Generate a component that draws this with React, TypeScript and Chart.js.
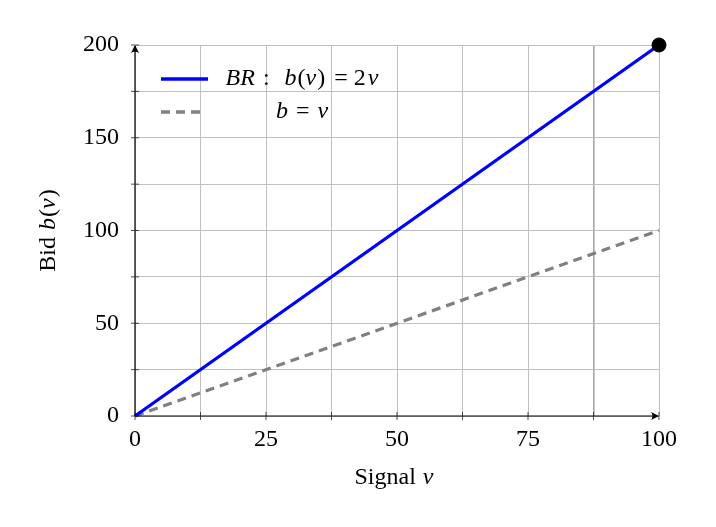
import React, { useEffect, useRef } from "react";
import { Chart, registerables } from "chart.js";

Chart.register(...registerables);

const signal = [0, 100];
const bestResponse = [0, 200];
const identity = [0, 100];
const endPoint = { x: 100, y: 200 };
const xTicks = [0, 25, 50, 75, 100];
const yTicks = [0, 50, 100, 150, 200];
const seriesLabels = ["BR : b(v) = 2v", "b = v"];

const SERIF = '"Liberation Serif", "DejaVu Serif", serif';
const FS = 24;

type Run = { t: string; i: boolean; g?: number };

function drawRuns(ctx: CanvasRenderingContext2D, runs: Run[], x: number, y: number, size: number, align: "left" | "center") {
  let total = 0;
  const widths = runs.map((r) => {
    ctx.font = `${r.i ? "italic " : ""}${size}px ${SERIF}`;
    const w = ctx.measureText(r.t).width;
    total += w + (r.g || 0);
    return w;
  });
  let cx = align === "center" ? x - total / 2 : x;
  ctx.textAlign = "left";
  ctx.textBaseline = "middle";
  runs.forEach((r, k) => {
    cx += r.g || 0;
    ctx.font = `${r.i ? "italic " : ""}${size}px ${SERIF}`;
    ctx.fillText(r.t, cx, y);
    cx += widths[k];
  });
}

const overlay = {
  id: "overlay",
  afterDatasetsDraw(chart: any) {
    const ctx: CanvasRenderingContext2D = chart.ctx;
    const xs = chart.scales.x;
    const ys = chart.scales.y;
    const x0 = xs.getPixelForValue(0);
    const x1 = xs.getPixelForValue(100);
    const y0 = ys.getPixelForValue(0);
    const y1 = ys.getPixelForValue(200);
    ctx.save();
    // axes
    ctx.strokeStyle = "#000";
    ctx.fillStyle = "#000";
    ctx.lineWidth = 1.2;
    ctx.beginPath();
    ctx.moveTo(x0, y0);
    ctx.lineTo(x1 - 1, y0);
    ctx.moveTo(x0, y0);
    ctx.lineTo(x0, y1 + 1);
    ctx.stroke();
    // arrow heads
    ctx.beginPath();
    ctx.moveTo(x1, y0);
    ctx.lineTo(x1 - 8, y0 - 4);
    ctx.quadraticCurveTo(x1 - 5, y0, x1 - 8, y0 + 4);
    ctx.closePath();
    ctx.fill();
    ctx.beginPath();
    ctx.moveTo(x0, y1);
    ctx.lineTo(x0 - 4, y1 + 8);
    ctx.quadraticCurveTo(x0, y1 + 5, x0 + 4, y1 + 8);
    ctx.closePath();
    ctx.fill();
    // tick marks
    ctx.lineWidth = 0.8;
    ctx.strokeStyle = "#222";
    ctx.beginPath();
    for (let v = 0; v <= 100; v += 12.5) {
      const p = xs.getPixelForValue(v);
      ctx.moveTo(p, y0 - 4);
      ctx.lineTo(p, y0 + 4);
    }
    for (let v = 0; v <= 200; v += 25) {
      const p = ys.getPixelForValue(v);
      ctx.moveTo(x0 - 4, p);
      ctx.lineTo(x0 + 4, p);
    }
    ctx.stroke();

    // legend
    const lx = 161;
    const rows = [79, 112];
    ctx.lineWidth = 3.3;
    ctx.strokeStyle = "#0000ff";
    ctx.beginPath();
    ctx.moveTo(lx, rows[0]);
    ctx.lineTo(lx + 47, rows[0]);
    ctx.stroke();
    ctx.strokeStyle = "#808080";
    ctx.setLineDash([9, 6]);
    ctx.beginPath();
    ctx.moveTo(lx, rows[1]);
    ctx.lineTo(lx + 45, rows[1]);
    ctx.stroke();
    ctx.setLineDash([]);
    ctx.fillStyle = "#000";
    drawRuns(ctx, [
      { t: "BR", i: true },
      { t: ":", i: false, g: 8 },
      { t: "b", i: true, g: 15 },
      { t: "(", i: false, g: 1 },
      { t: "v", i: true },
      { t: ")", i: false, g: 1 },
      { t: "=", i: false, g: 9 },
      { t: "2", i: false, g: 6 },
      { t: "v", i: true, g: 2 },
    ], 302, rows[0], FS, "center");
    drawRuns(ctx, [
      { t: "b", i: true },
      { t: "=", i: false, g: 8 },
      { t: "v", i: true, g: 8 },
    ], 302, rows[1], FS, "center");

    // axis titles
    drawRuns(ctx, [
      { t: "Signal", i: false },
      { t: "v", i: true, g: 7 },
    ], (x0 + x1) / 2 - 3, 478, FS, "center");
    ctx.save();
    ctx.translate(49, (y0 + y1) / 2);
    ctx.rotate(-Math.PI / 2);
    drawRuns(ctx, [
      { t: "Bid", i: false },
      { t: "b", i: true, g: 7 },
      { t: "(", i: false, g: 1 },
      { t: "v", i: true },
      { t: ")", i: false, g: 1 },
    ], 0, 0, FS, "center");
    ctx.restore();
    ctx.restore();
  },
};

export default function App() {
  const ref = useRef<HTMLCanvasElement | null>(null);
  useEffect(() => {
    document.body.style.margin = "0";
    const chart = new Chart(ref.current as HTMLCanvasElement, {
      type: "scatter",
      data: {
        datasets: [
          {
            label: seriesLabels[0],
            data: signal.map((x, k) => ({ x, y: bestResponse[k] })),
            showLine: true,
            borderColor: "#0000ff",
            borderWidth: 3.3,
            pointRadius: 0,
            order: 2,
          },
          {
            label: seriesLabels[1],
            data: signal.map((x, k) => ({ x, y: identity[k] })),
            showLine: true,
            borderColor: "#808080",
            borderWidth: 3.2,
            borderDash: [9, 6],
            pointRadius: 0,
            order: 3,
          },
          {
            label: "end",
            data: [endPoint],
            pointRadius: 7,
            pointBackgroundColor: "#000",
            pointBorderColor: "#000",
            order: 1,
          },
        ],
      },
      options: {
        responsive: false,
        animation: false,
        clip: false as any,
        layout: { padding: { top: 45, right: 57, left: 0, bottom: 0 } },
        plugins: { legend: { display: false }, tooltip: { enabled: false } },
        scales: {
          x: {
            type: "linear",
            min: 0,
            max: 100,
            afterBuildTicks: (s: any) => {
              const t = [];
              for (let v = 0; v <= 100; v += 12.5) t.push({ value: v });
              s.ticks = t;
            },
            afterFit: (s: any) => {
              s.height = 111;
            },
            ticks: {
              callback: (v: any) => (xTicks.includes(Number(v)) ? String(v) : ""),
              font: { family: SERIF, size: FS },
              color: "#000",
              padding: 9,
              maxRotation: 0,
              autoSkip: false,
            },
            grid: { color: (c: any) => (c.tick && c.tick.value === 87.5 ? "#a8a8a8" : "#c0c0c0"), lineWidth: (c: any) => (c.tick && c.tick.value === 87.5 ? 1.6 : 1), drawTicks: false },
            border: { display: false },
          },
          y: {
            type: "linear",
            min: 0,
            max: 200,
            afterBuildTicks: (s: any) => {
              const t = [];
              for (let v = 0; v <= 200; v += 25) t.push({ value: v });
              s.ticks = t;
            },
            afterFit: (s: any) => {
              s.width = 135;
            },
            ticks: {
              callback: (v: any) => (yTicks.includes(Number(v)) ? String(v) : ""),
              font: { family: SERIF, size: FS },
              color: "#000",
              padding: 16,
              autoSkip: false,
            },
            grid: { color: "#c0c0c0", lineWidth: 1, drawTicks: false },
            border: { display: false },
          },
        },
      },
      plugins: [overlay],
    });
    return () => chart.destroy();
  }, []);
  return (
    <div style={{ position: "absolute", left: 0, top: 0, width: 716, height: 527, background: "#fff" }}>
      <canvas ref={ref} width={716} height={527} style={{ width: 716, height: 527 }} />
    </div>
  );
}
